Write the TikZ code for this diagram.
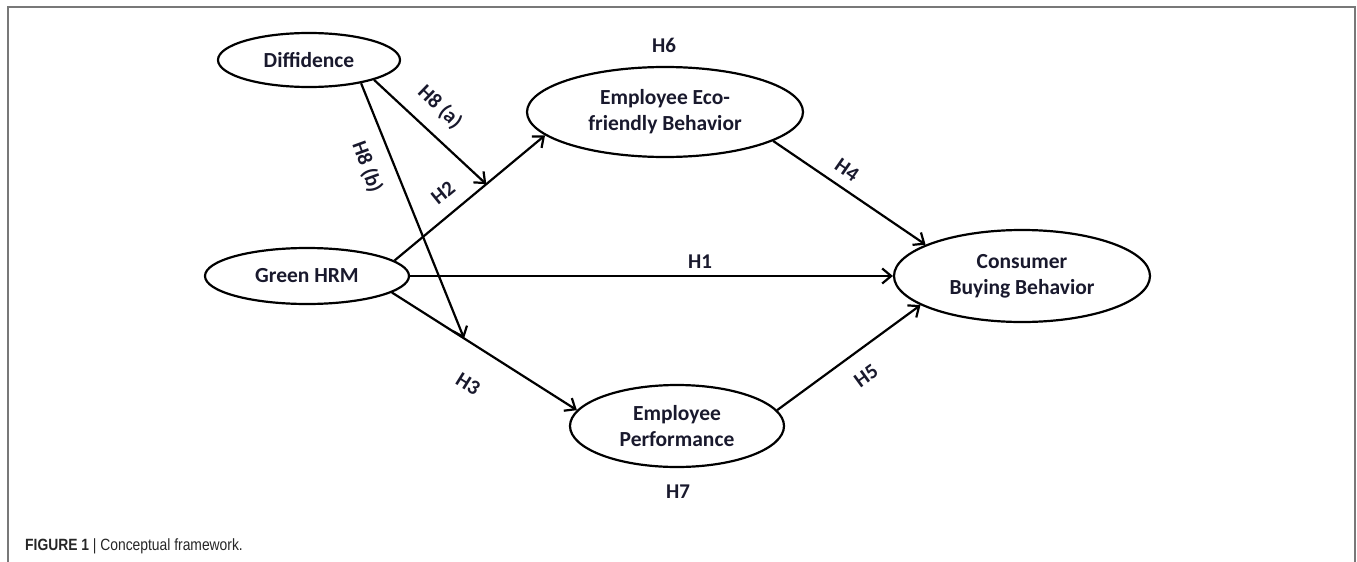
\documentclass[tikz,border=0pt]{standalone}
\usepackage{fontspec}
\setmainfont{Carlito}
\newfontfamily\capfont[FakeStretch=0.85]{Liberation Sans}
\usetikzlibrary{shapes.geometric,arrows.meta}
\definecolor{txt}{RGB}{25,25,45}
\definecolor{framegray}{RGB}{120,120,120}
\begin{document}
\begin{tikzpicture}[x=1pt,y=-1pt,
    var/.style={ellipse,draw,line width=2.2pt,inner sep=0pt,align=center,
      font=\fontsize{21.5}{26}\selectfont\bfseries,text=txt},
    hyp/.style={font=\fontsize{21}{24}\selectfont\bfseries,text=txt,inner sep=1pt},
    arr/.style={line width=2.2pt,-{Straight Barb[length=9pt,width=15pt]}}]
        \useasboundingbox (0,0) rectangle (1357,562);
        \draw[framegray,line width=1.5pt] (8,562) -- (8,7) -- (1355,7) -- (1355,562);
        % constructs
        \node[var,minimum width=182,minimum height=54] (diff) at (309,60) {Diffidence};
        \node[var,minimum width=204,minimum height=56] (ghrm) at (307,276) {Green HRM};
        \node[var,minimum width=276,minimum height=90] (eco) at (665,112) {Employee Eco-\\friendly Behavior};
        \node[var,minimum width=256,minimum height=92] (cbb) at (1022,276) {Consumer\\Buying Behavior};
        \node[var,minimum width=214,minimum height=82] (perf) at (677,426) {Employee\\Performance};
        % paths
        \draw[arr] (ghrm.east) -- (cbb.west);
        \draw[arr] (ghrm.10) -- coordinate[pos=0.61] (m2) (eco.191);
        \draw[arr] (ghrm.-11) -- coordinate[pos=0.39] (m3) (perf.171);
        \draw[arr] (eco.-15) -- (cbb.162);
        \draw[arr] (perf.9) -- (cbb.196);
        \draw[arr] (diff.-17) -- (m2);
        \draw[arr] (diff.-24) -- (m3);
        % hypotheses
        \node[hyp] (h6) at (664,45) {H6};
        \node[hyp] (h7) at (678,492) {H7};
        \node[hyp] (h1) at (700,262) {H1};
        \node[hyp,rotate=39] (h2) at (443,193) {H2};
        \node[hyp,rotate=-32] (h3) at (468,384) {H3};
        \node[hyp,rotate=-35] (h4) at (847,170) {H4};
        \node[hyp,rotate=36] (h5) at (866,376) {H5};
        \node[hyp,rotate=-44] (h8a) at (440,107) {H8 (a)};
        \node[hyp,rotate=-70] (h8b) at (367,167) {H8 (b)};
        \node[anchor=west,inner sep=0pt,font=\capfont\fontsize{16.3}{18}\selectfont,text=black!85] (cap) at (25,546)
          {\textbf{FIGURE 1} | Conceptual framework.};
      \end{tikzpicture}
\end{document}
